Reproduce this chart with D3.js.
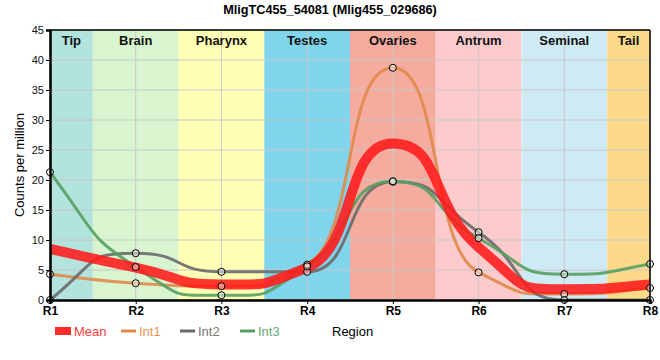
<!DOCTYPE html>
<html><head><meta charset="utf-8">
<script src="https://cdn.jsdelivr.net/npm/d3@7"></script>
<style>body{margin:0;background:#fff;} text{font-family:Arial,"Liberation Sans",sans-serif;}</style>
</head><body><svg id="c" width="660" height="360"></svg>
<script>
const regions = ["R1","R2","R3","R4","R5","R6","R7","R8"];
const tissues = ["Tip","Brain","Pharynx","Testes","Ovaries","Antrum","Seminal","Tail"];
const tissueColors = ["#b3e3dd","#d8f5d0","#ffffb5","#80d5ec","#f5ab9d","#fdcbcc","#ceeaf5","#fdda8a"];
const mean = [8.5, 5.4, 2.6, 5.4, 26.1, 8.8, 1.8, 2.6];
const int1 = [4.3, 2.8, 2.3, 5.9, 38.7, 4.6, 1.0, 2.0];
const int2 = [0.0, 7.8, 4.7, 4.7, 19.7, 11.3, 0.0, 0.0];
const int3 = [21.3, 5.5, 0.8, 5.6, 19.8, 10.3, 4.3, 6.0];
const yTicks = [0,5,10,15,20,25,30,35,40,45];
const title = "MligTC455_54081 (Mlig455_029686)";

const svg = d3.select("#c");
const L = 50, R = 650, T = 30, B = 300;
const x = d3.scalePoint().domain(regions).range([L, R]);
const y = d3.scaleLinear().domain([0, 45]).range([B, T]);
const step = x.step();

// smooth monotone path (Steffen tangents, wide control points)
function smoothPath(vals) {
  const px = vals.map((v, i) => x(regions[i]));
  const py = vals.map(v => y(v));
  const n = px.length;
  const s = [];
  for (let i = 0; i < n - 1; i++) s.push((py[i+1] - py[i]) / (px[i+1] - px[i]));
  const m = new Array(n);
  for (let i = 1; i < n - 1; i++) {
    const h0 = px[i] - px[i-1], h1 = px[i+1] - px[i];
    const p = (s[i-1] * h1 + s[i] * h0) / (h0 + h1);
    m[i] = (Math.sign(s[i-1]) + Math.sign(s[i])) * Math.min(Math.abs(s[i-1]), Math.abs(s[i]), 0.5 * Math.abs(p)) || 0;
  }
  m[0] = (3 * s[0] - m[1]) / 2;
  m[n-1] = (3 * s[n-2] - m[n-2]) / 2;
  const k = 0.58;
  const path = d3.path();
  path.moveTo(px[0], py[0]);
  for (let i = 0; i < n - 1; i++) {
    const dx = px[i+1] - px[i];
    path.bezierCurveTo(px[i] + k*dx, py[i] + k*dx*m[i], px[i+1] - k*dx, py[i+1] - k*dx*m[i+1], px[i+1], py[i+1]);
  }
  return path.toString();
}

// bands
const g = svg.append("g");
tissues.forEach((t, i) => {
  const cx = x(regions[i]);
  const x0 = Math.max(L, cx - step/2), x1 = Math.min(R, cx + step/2);
  g.append("rect").attr("x", x0).attr("y", T).attr("width", x1 - x0).attr("height", B - T).attr("fill", tissueColors[i]);
});
// grid
yTicks.forEach(v => g.append("line").attr("x1", L).attr("x2", R).attr("y1", y(v)).attr("y2", y(v)).attr("stroke", "#c8c8c8").attr("stroke-width", 1));
regions.forEach(r => g.append("line").attr("x1", x(r)).attr("x2", x(r)).attr("y1", T).attr("y2", B).attr("stroke", "#c8c8c8").attr("stroke-width", 1));
// band labels
tissues.forEach((t, i) => {
  const cx = x(regions[i]);
  const x0 = Math.max(L, cx - step/2), x1 = Math.min(R, cx + step/2);
  g.append("text").attr("x", (x0 + x1)/2).attr("y", 45).attr("text-anchor", "middle").attr("font-size", "13px").attr("font-weight", "bold").attr("fill", "#111").text(t);
});

// lines
const series = [
  {name: "Int1", data: int1, color: "#e0894a", text: "#e8955a"},
  {name: "Int2", data: int2, color: "#6a6a6a", text: "#777777"},
  {name: "Int3", data: int3, color: "#55a062", text: "#66aa77"}
];
svg.append("clipPath").attr("id", "pc").append("rect").attr("x", L).attr("y", T).attr("width", R - L).attr("height", B - T);
const lg = svg.append("g").attr("clip-path", "url(#pc)");
series.forEach(s => lg.append("path").attr("d", smoothPath(s.data)).attr("fill", "none").attr("stroke", s.color).attr("stroke-width", 3).attr("stroke-opacity", 0.9));
lg.append("path").attr("d", smoothPath(mean)).attr("fill", "none").attr("stroke", "#ff1a1a").attr("stroke-width", 10).attr("stroke-opacity", 0.88);

// points
const pg = svg.append("g");
series.forEach(s => s.data.forEach((v, i) => pg.append("circle").attr("cx", x(regions[i])).attr("cy", y(v)).attr("r", 3.5).attr("fill", "#fff").attr("fill-opacity", 0.45).attr("stroke", "#000").attr("stroke-width", 1)));

// frame
svg.append("line").attr("x1", L).attr("x2", R).attr("y1", T).attr("y2", T).attr("stroke", "#000").attr("stroke-width", 1.5);
svg.append("line").attr("x1", R).attr("x2", R).attr("y1", T).attr("y2", B).attr("stroke", "#000").attr("stroke-width", 1.5);

// axes
const ya = svg.append("g").attr("transform", `translate(${L},0)`).call(d3.axisLeft(y).tickValues(yTicks).tickSize(4).tickPadding(2));
ya.select(".domain").attr("stroke-width", 2.5);
ya.selectAll("text").attr("font-size", "11px").attr("fill", "#111").attr("font-family", "Arial, Liberation Sans, sans-serif");
const xa = svg.append("g").attr("transform", `translate(0,${B})`).call(d3.axisBottom(x).tickSize(4).tickPadding(2));
xa.select(".domain").attr("stroke-width", 2.5);
xa.selectAll("text").attr("font-size", "12px").attr("font-weight", "bold").attr("fill", "#000").attr("font-family", "Arial, Liberation Sans, sans-serif");

// title
svg.append("text").attr("x", 330).attr("y", 14).attr("text-anchor", "middle").attr("font-size", "12.7px").attr("font-weight", "bold").text(title);
// y label
svg.append("text").attr("transform", "translate(24,165) rotate(-90)").attr("text-anchor", "middle").attr("font-size", "13px").text("Counts per million");

// legend
const leg = svg.append("g");
const ly = 331;
leg.append("rect").attr("x", 55).attr("y", ly - 4).attr("width", 16).attr("height", 8).attr("fill", "#ff2a2a");
leg.append("text").attr("x", 74).attr("y", ly + 5).attr("font-size", "13px").attr("fill", "#ff3b3b").text("Mean");
const lx = [121, 180, 240];
series.forEach((s, i) => {
  leg.append("line").attr("x1", lx[i]).attr("x2", lx[i] + 15).attr("y1", ly).attr("y2", ly).attr("stroke", s.color).attr("stroke-width", 3);
  leg.append("text").attr("x", lx[i] + 18).attr("y", ly + 5).attr("font-size", "13px").attr("fill", s.text).text(s.name);
});
leg.append("text").attr("x", 332).attr("y", ly + 5).attr("font-size", "13px").attr("fill", "#000").text("Region");
</script></body></html>
